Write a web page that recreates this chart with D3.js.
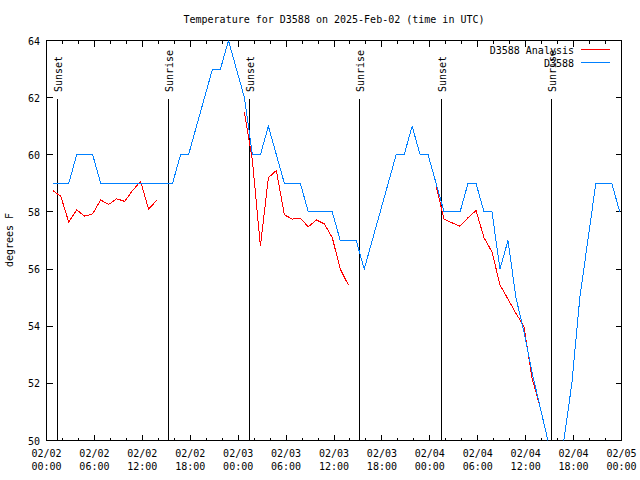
<!DOCTYPE html>
<html><head><meta charset="utf-8">
<script src="https://cdn.jsdelivr.net/npm/d3@7"></script>
<style>
body{margin:0;background:#fff;}
svg{display:block;}
text{font-family:"DejaVu Sans Mono","Liberation Mono",monospace;font-size:10px;fill:#000;}
</style></head><body>
<svg id="chart" width="640" height="480"></svg>
<script>
// ---------------- data ----------------
const chartTitle = "Temperature for D3588 on 2025-Feb-02 (time in UTC)";
const yAxisLabel = "degrees F";
const xStart = "2025-02-02T00:00:00Z";
const xEnd = "2025-02-05T00:00:00Z";
const yMin = 50, yMax = 64;
const yTickValues = [50, 52, 54, 56, 58, 60, 62, 64];
const xTickLabelsDate = ["02/02","02/02","02/02","02/02","02/03","02/03","02/03","02/03","02/04","02/04","02/04","02/04","02/05"];
const xTickLabelsTime = ["00:00","06:00","12:00","18:00","00:00","06:00","12:00","18:00","00:00","06:00","12:00","18:00","00:00"];
const seriesNames = ["D3588 Analysis", "D3588"];

// hourly readings starting at this time
const firstReadingTime = "2025-02-02T00:47:00Z";
// station observations (blue)
const obsValues = [
  59, 59, 59, 60, 60, 60, 59, 59, 59, 59, 59, 59, 59, 59, 59, 59,
  60, 60, 61, 62, 63, 63, 64, 63, 62, 60, 60, 61, 60, 59, 59, 59,
  58, 58, 58, 58, 57, 57, 57, 56, 57, 58, 59, 60, 60, 61, 60, 60,
  59, 58, 58, 58, 59, 59, 58, 58, 56, 57, 55, 53.8, 52.4, 51.2, 50, 49,
  50, 52, 55, 57, 59, 59, 59, 58
];
// analysis values (red); null = no analysis
const analysisValues = [
  58.75, 58.55, 57.65, 58.07, 57.85, 57.93, 58.42, 58.26, 58.46, 58.37, 58.75, 59.07, 58.1, 58.4,
  null, null, null, null, null, null, null, null, null, null,
  61.5, 59.8, 56.8, 59.2, 59.45, 57.9, 57.75, 57.78, 57.48, 57.72, 57.58, 57.1, 56.0, 55.45,
  null, null, null, null, null, null, null, null, null, null,
  58.9, 57.75, 57.62, 57.5, 57.8, 58.05, 57.1, 56.6, 55.45, 54.95, 54.45, 54.0, 52.2, 51.2
];
const sunLabels = ["Sunset", "Sunrise", "Sunset", "Sunrise", "Sunset", "Sunrise"];
const sunTimes = ["2025-02-02T01:25:00Z", "2025-02-02T15:19:00Z", "2025-02-03T01:27:00Z",
                  "2025-02-03T15:14:00Z", "2025-02-04T01:30:00Z", "2025-02-04T15:16:00Z"];

// ---------------- drawing ----------------
const colors = ["#ff0000", "#0080ff"];
const svg = d3.select("#chart");
const L = 46.5, R = 621.5, T = 40.5, B = 440.5;

const x = d3.scaleUtc().domain([new Date(xStart), new Date(xEnd)]).range([L, R]);
const y = d3.scaleLinear().domain([yMin, yMax]).range([B, T]);

const t0 = new Date(firstReadingTime);
const obsData = obsValues.map((v, i) => ({t: d3.utcHour.offset(t0, i), v}));
const anaData = analysisValues.map((v, i) => ({t: d3.utcHour.offset(t0, i), v}));

svg.append("defs").append("clipPath").attr("id", "clip")
  .append("rect").attr("x", L).attr("y", T).attr("width", R - L).attr("height", B - T);

// title
svg.append("text").attr("x", 334).attr("y", 23).attr("text-anchor", "middle").text(chartTitle);

// y axis label
svg.append("text").attr("transform", "translate(13,240) rotate(-90)")
  .attr("text-anchor", "middle").text(yAxisLabel);

const g = svg.append("g").attr("shape-rendering", "crispEdges");

// ticks
const majorX = d3.utcHour.every(6).range(new Date(xStart), d3.utcHour.offset(new Date(xEnd), 1));
const minorX = d3.utcHour.every(2).range(new Date(xStart), new Date(xEnd)).filter(d => d.getUTCHours() % 6 !== 0);
const tickPath = [];
majorX.forEach(d => { const px = Math.round(x(d) - 0.5) + 0.5; tickPath.push(`M${px},${B}V${B-6}M${px},${T}V${T+6}`); });
minorX.forEach(d => { const px = Math.round(x(d) - 0.5) + 0.5; tickPath.push(`M${px},${B}V${B-3}M${px},${T}V${T+3}`); });
yTickValues.forEach(v => { const py = Math.round(y(v) - 0.5) + 0.5; tickPath.push(`M${L},${py}H${L+6}M${R},${py}H${R-6}`); });
g.append("path").attr("d", tickPath.join("")).attr("fill", "none").attr("stroke", "#000").attr("stroke-width", 1);

// y tick labels
svg.append("g").selectAll("text").data(yTickValues).join("text")
  .attr("x", 40).attr("y", d => y(d) + 4).attr("text-anchor", "end").text(d => d);

// x tick labels
const xl = svg.append("g").selectAll("text").data(majorX).join("text")
  .attr("text-anchor", "middle");
xl.append("tspan").attr("x", d => x(d)).attr("y", 457).text((d, i) => xTickLabelsDate[i]);
xl.append("tspan").attr("x", d => x(d)).attr("y", 470).text((d, i) => xTickLabelsTime[i]);

// sun lines
sunTimes.forEach((s, i) => {
  const px = Math.round(x(new Date(s)) - 0.5) + 0.5;
  g.append("line").attr("x1", px).attr("x2", px).attr("y1", B).attr("y2", 99)
    .attr("stroke", "#000").attr("stroke-width", 1);
  svg.append("text").attr("transform", `translate(${px + 4.5},92) rotate(-90)`)
    .attr("text-anchor", "start").text(sunLabels[i]);
});

// frame
g.append("rect").attr("x", L).attr("y", T).attr("width", R - L).attr("height", B - T)
  .attr("fill", "none").attr("stroke", "#000").attr("stroke-width", 1);

// data lines
const line = d3.line().defined(d => d.v !== null).x(d => x(d.t)).y(d => y(d.v));
const dl = svg.append("g").attr("clip-path", "url(#clip)").attr("shape-rendering", "crispEdges");
dl.append("path").datum(anaData).attr("d", line).attr("fill", "none")
  .attr("stroke", colors[0]).attr("stroke-width", 1);
dl.append("path").datum(obsData).attr("d", line).attr("fill", "none")
  .attr("stroke", colors[1]).attr("stroke-width", 1);

// legend
const legY = [49.5, 62.5];
seriesNames.forEach((n, i) => {
  svg.append("text").attr("x", 574).attr("y", legY[i] + 4).attr("text-anchor", "end").text(n);
  g.append("line").attr("x1", 581).attr("x2", 610).attr("y1", legY[i]).attr("y2", legY[i])
    .attr("stroke", colors[i]).attr("stroke-width", 1);
});
</script>
</body></html>
